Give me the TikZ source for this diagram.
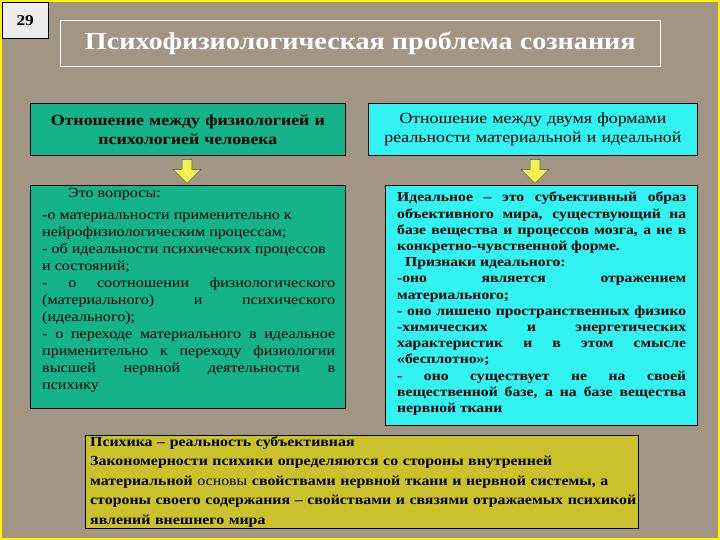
\documentclass[tikz,border=0pt]{standalone}
\usepackage{fontspec}
\setmainfont{Liberation Serif}[FakeStretch=1.15]
\usetikzlibrary{shapes.arrows}
\definecolor{bg}{HTML}{A39584}
\definecolor{grn}{HTML}{14B38C}
\definecolor{cyn}{HTML}{33F2F2}
\definecolor{olv}{HTML}{C9C22A}
\definecolor{yel}{HTML}{F2F24D}
\begin{document}
\begin{tikzpicture}[x=1pt,y=-1pt,
  hdr/.style={draw=black,line width=0.8pt,inner sep=2pt,align=center,font=\fontsize{15.5}{19}\selectfont\bfseries},
  box/.style={draw=black,line width=0.8pt,anchor=north west,inner sep=0pt},
  body/.style={anchor=north west,inner sep=0pt,align=justify,font=\fontsize{13.6}{16.2}\selectfont\bfseries},
  darr/.style={single arrow,shape border rotate=270,draw=gray!60!black,fill=yel,minimum height=24pt,minimum width=28pt,single arrow head extend=6pt,inner sep=3pt}]
\fill[bg] (0,0) rectangle (720,540);
\draw[yellow,line width=2pt] (1,1) rectangle (719,539);
\node[draw=black,fill=gray!15,minimum width=46pt,minimum height=36pt,anchor=north west,font=\fontsize{15}{18}\selectfont\bfseries,text depth=0pt] (num) at (2,2) {29};
\node[draw=white,line width=0.6pt,minimum width=600pt,minimum height=46pt,anchor=north west,text=white,font=\fontsize{24.5}{28}\selectfont\bfseries] (title) at (60,20) {Психофизиологическая проблема сознания};
\node[hdr,fill=grn,minimum width=315pt,minimum height=52pt,text width=311pt,anchor=north west] (lh) at (30,103) {Отношение между физиологией и\\психологией человека};
\node[hdr,fill=cyn,minimum width=329pt,minimum height=52pt,text width=325pt,anchor=north west,font=\fontsize{15.5}{19}\selectfont] (rh) at (368,103) {Отношение между двумя формами\\реальности материальной и идеальной};
\node[darr] (la) at (187,169) {};
\node[darr] (ra) at (535,169) {};
\node[box,fill=grn,minimum width=315pt,minimum height=223pt] (lb) at (30,185) {};
\node[box,fill=cyn,minimum width=312pt,minimum height=240pt] (rb) at (385,185) {};
\node[body,text width=293pt,font=\fontsize{14}{17}\selectfont] (lt) at (42,188) {\hspace*{26pt}Это вопросы:\par\vspace{5pt}
-о материальности применительно к\newline
нейрофизиологическим процессам;\newline
- об идеальности психических процессов\newline
и состояний;\newline
- о соотношении физиологического\linebreak
(материального) и психического\linebreak
(идеального);\newline
- о переходе материального в идеальное\linebreak
применительно к переходу физиологии\linebreak
высшей нервной деятельности в\linebreak
психику};
\node[body,text width=289pt] (rt) at (397,192) {Идеальное – это субъективный образ объективного мира, существующий на базе вещества и процессов мозга, а не в конкретно-чувственной форме.\newline
\hspace*{8pt}Признаки идеального:\newline
-оно является отражением материального;\newline
- оно лишено пространственных физико\linebreak
-химических и энергетических характеристик и в этом смысле «бесплотно»;\newline
- оно существует не на своей вещественной базе, а на базе вещества нервной ткани};
\node[box,fill=olv,minimum width=553pt,minimum height=93pt] (bot) at (85,435) {};
\node[body,align=left,text width=550pt,font=\fontsize{13.8}{19.5}\selectfont\bfseries] (bt) at (90,436) {Психика – реальность субъективная\\
Закономерности психики определяются со стороны внутренней\\
материальной {\mdseries основы} свойствами нервной ткани и нервной системы, а\\
стороны своего содержания – свойствами и связями отражаемых психикой\\
явлений внешнего мира};
\end{tikzpicture}
\end{document}
